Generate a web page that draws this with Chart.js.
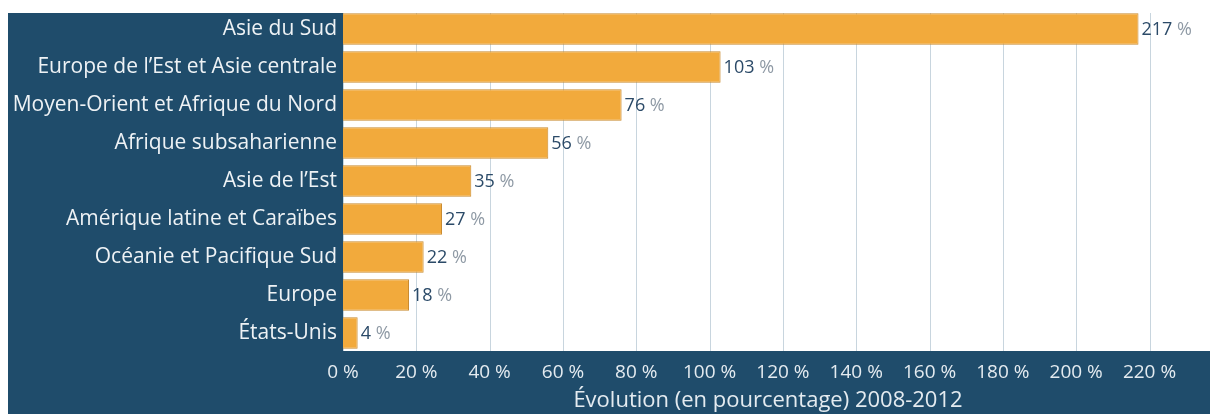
<!DOCTYPE html>
<html lang="fr">
<head>
<meta charset="utf-8">
<title>Évolution 2008-2012</title>
<script src="https://cdn.jsdelivr.net/npm/chart.js@4/dist/chart.umd.min.js"></script>
<style>
  html, body { margin: 0; padding: 0; background: #ffffff; }
  #wrap { position: relative; width: 1210px; height: 414px; }
</style>
</head>
<body>
<div id="wrap"><canvas id="chart" width="1210" height="414"></canvas></div>
<script>
// Regions and their growth, 2008-2012 (%)
const regions = [
  'Asie du Sud',
  'Europe de l’Est et Asie centrale',
  'Moyen-Orient et Afrique du Nord',
  'Afrique subsaharienne',
  'Asie de l’Est',
  'Amérique latine et Caraïbes',
  'Océanie et Pacifique Sud',
  'Europe',
  'États-Unis'
];
const growth = [217, 103, 76, 56, 35, 27, 22, 18, 4];
const tickValues = [0, 20, 40, 60, 80, 100, 120, 140, 160, 180, 200, 220];
const axisTitle = 'Évolution (en pourcentage) 2008-2012';

const NAVY = '#1f4c6b';
const LIGHT = '#e4ebf0';
const FONT = "'Open Sans', sans-serif";
const PANEL_TOP = 13;
const PANEL_BOTTOM = 351;

// Paints the dark frame, the white panel and its vertical grid
const framePlugin = {
  id: 'frame',
  beforeDraw(chart) {
    const { ctx, chartArea: a, width, height, scales } = chart;
    ctx.save();
    ctx.fillStyle = '#ffffff';
    ctx.fillRect(0, 0, width, height);
    ctx.fillStyle = NAVY;
    ctx.fillRect(8, PANEL_TOP, width - 8, height - PANEL_TOP);
    ctx.fillStyle = '#ffffff';
    ctx.fillRect(a.left, PANEL_TOP, a.right - a.left, PANEL_BOTTOM - PANEL_TOP);
    ctx.strokeStyle = '#c8d5de';
    ctx.lineWidth = 1;
    tickValues.forEach(v => {
      const x = Math.round(scales.x.getPixelForValue(v)) + 0.5;
      ctx.beginPath();
      ctx.moveTo(x, PANEL_TOP);
      ctx.lineTo(x, PANEL_BOTTOM);
      ctx.stroke();
    });
    ctx.restore();
  },
  afterDraw(chart) {
    // axis caption under the tick labels
    const { ctx } = chart;
    ctx.save();
    ctx.font = "22px " + FONT;
    ctx.fillStyle = LIGHT;
    ctx.textAlign = 'center';
    ctx.textBaseline = 'middle';
    ctx.fillText(axisTitle, 768, 401);
    ctx.restore();
  }
};

// Writes "NN %" just past the end of each bar
const valueLabels = {
  id: 'valueLabels',
  afterDatasetsDraw(chart) {
    const { ctx } = chart;
    const meta = chart.getDatasetMeta(0);
    ctx.save();
    ctx.font = "18px " + FONT;
    ctx.textBaseline = 'middle';
    ctx.textAlign = 'left';
    meta.data.forEach((bar, i) => {
      const num = String(growth[i]);
      const x = bar.x + 3;
      const y = bar.y + 1;
      ctx.fillStyle = '#2b4a68';
      ctx.fillText(num, x, y);
      const w = ctx.measureText(num + ' ').width;
      ctx.fillStyle = '#8f9aa5';
      ctx.fillText('%', x + w, y);
    });
    ctx.restore();
  }
};

new Chart(document.getElementById('chart'), {
  type: 'bar',
  data: {
    labels: regions,
    datasets: [{
      data: growth,
      backgroundColor: '#f2aa3c',
      borderColor: '#c98a2e',
      borderWidth: 1,
      barPercentage: 0.83,
      categoryPercentage: 1.0
    }]
  },
  options: {
    indexAxis: 'y',
    responsive: false,
    animation: false,
    layout: { padding: { left: 0, right: 0, top: 10, bottom: 0 } },
    plugins: {
      legend: { display: false },
      tooltip: { enabled: false }
    },
    scales: {
      x: {
        min: 0,
        max: 236.5,
        afterBuildTicks(scale) {
          scale.ticks = tickValues.map(v => ({ value: v }));
        },
        afterFit(scale) {
          scale.height = 62;
          scale.paddingLeft = 0;
          scale.paddingRight = 0;
        },
        grid: { display: false, drawTicks: false },
        border: { display: false },
        ticks: {
          padding: 9,
          color: LIGHT,
          font: { family: FONT, size: 19 },
          callback: v => v + ' %'
        }
      },
      y: {
        afterFit(scale) {
          scale.width = 343;
          scale.paddingTop = 0;
          scale.paddingBottom = 0;
        },
        grid: { display: false, drawTicks: false },
        border: { display: false },
        ticks: {
          padding: 6,
          color: '#eef2f5',
          font: { family: FONT, size: 21 }
        }
      }
    }
  },
  plugins: [framePlugin, valueLabels]
});
</script>
</body>
</html>
